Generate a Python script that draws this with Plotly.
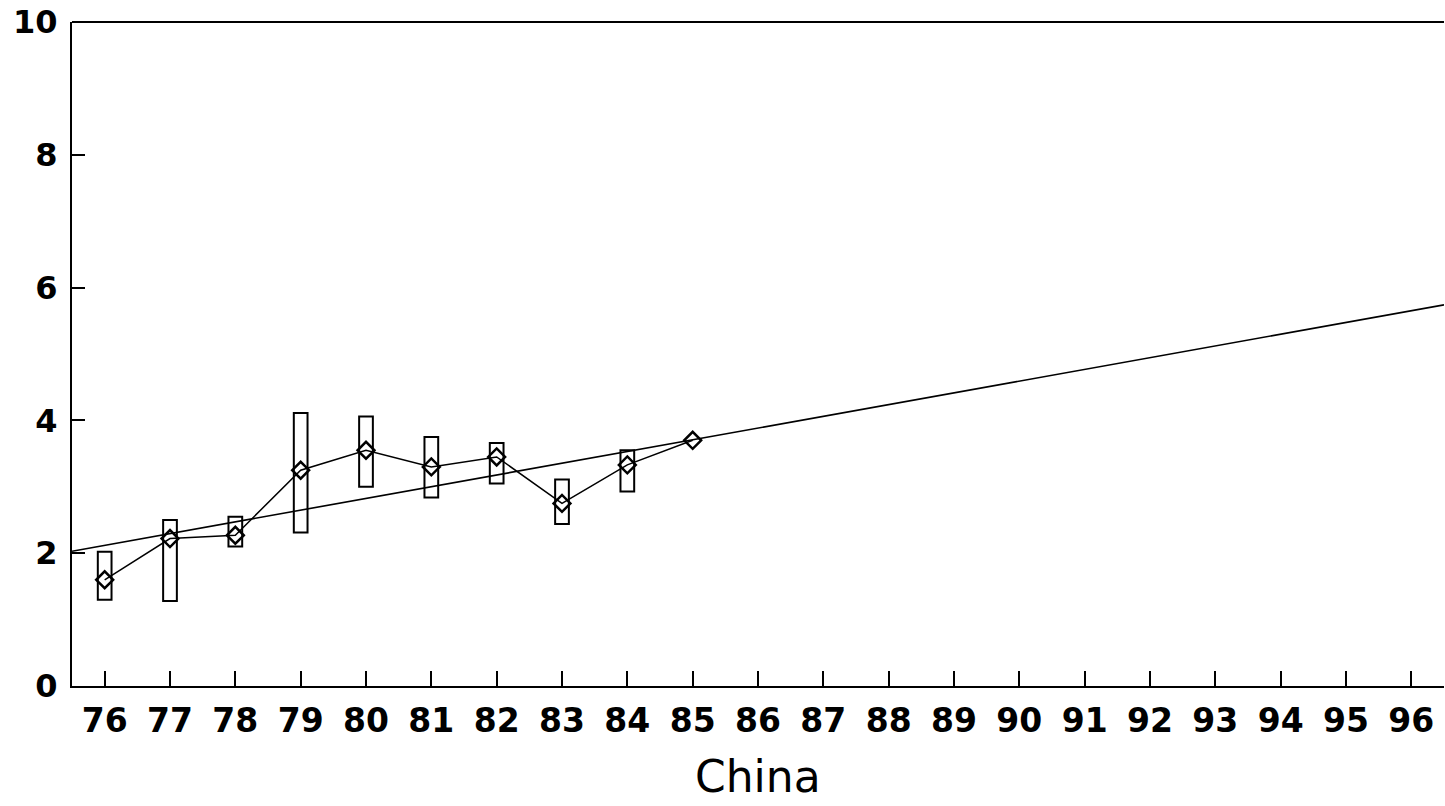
import plotly.graph_objects as go

# ---- data ----
years = [76, 77, 78, 79, 80, 81, 82, 83, 84, 85]
values = [1.60, 2.22, 2.27, 3.25, 3.55, 3.30, 3.45, 2.75, 3.33, 3.70]
box_years = [76, 77, 78, 79, 80, 81, 82, 83, 84]
box_low = [1.30, 1.28, 2.10, 2.31, 3.00, 2.84, 3.05, 2.44, 2.93]
box_high = [2.02, 2.50, 2.55, 4.11, 4.06, 3.75, 3.66, 3.11, 3.55]
trend_x = [75.5, 96.5]
trend_y = [2.03, 5.74]
x_ticks = list(range(76, 97))
y_ticks = [0, 2, 4, 6, 8, 10]
x_title = "China"

FONT = "DejaVu Sans, Liberation Sans, Arial, sans-serif"

fig = go.Figure()

# range boxes
fig.add_trace(go.Bar(
    x=box_years,
    y=[h - l for h, l in zip(box_high, box_low)],
    base=box_low,
    width=0.21,
    marker=dict(color="rgba(0,0,0,0)", line=dict(color="black", width=2)),
    hoverinfo="skip",
    showlegend=False,
))

# trend line
fig.add_trace(go.Scatter(
    x=trend_x, y=trend_y, mode="lines",
    line=dict(color="black", width=1.6),
    showlegend=False, hoverinfo="skip",
))

# observed series
fig.add_trace(go.Scatter(
    x=years, y=values, mode="lines+markers",
    line=dict(color="black", width=1.5),
    marker=dict(symbol="diamond-open", size=13, color="black",
                line=dict(width=2.5, color="black")),
    showlegend=False,
))

fig.update_layout(
    width=1445, height=806, autosize=False,
    margin=dict(l=72, r=1, t=22, b=120),
    plot_bgcolor="white", paper_bgcolor="white",
    font=dict(family=FONT, color="black"),
    barmode="overlay",
    xaxis=dict(
        range=[75.5, 96.5],
        tickmode="array", tickvals=x_ticks, ticktext=[str(t) for t in x_ticks],
        ticks="inside", ticklen=15, tickwidth=2, tickcolor="black",
        showline=True, linecolor="black", linewidth=2, mirror=False,
        showgrid=False, zeroline=False,
        tickfont=dict(family=FONT, size=33, color="black", weight="bold"),
        ticklabelstandoff=4,
    ),
    yaxis=dict(
        range=[0, 10],
        tickmode="array", tickvals=y_ticks, ticktext=[str(t) for t in y_ticks],
        ticks="inside", ticklen=13, tickwidth=2, tickcolor="black",
        showline=True, linecolor="black", linewidth=2, mirror=False,
        showgrid=False, zeroline=False,
        tickfont=dict(family=FONT, size=32, color="black", weight="bold"),
        ticklabelstandoff=6,
    ),
    shapes=[dict(type="line", xref="paper", yref="paper", x0=0, x1=1, y0=1, y1=1,
                 line=dict(color="black", width=2))],
    annotations=[dict(
        text=x_title, xref="paper", yref="paper", x=0.5, y=-0.137,
        xanchor="center", yanchor="middle", showarrow=False,
        font=dict(family=FONT, size=44, color="black"),
    )],
)

fig.write_html("out.html")
